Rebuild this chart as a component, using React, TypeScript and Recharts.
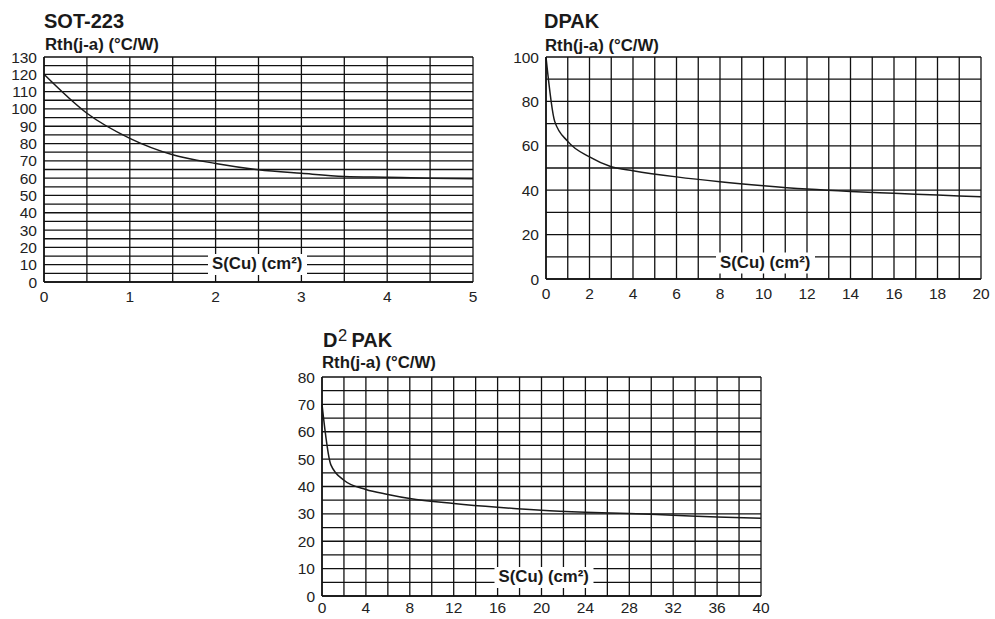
import React from 'react';
import { LineChart, Line, XAxis, YAxis, CartesianGrid } from 'recharts';

// ---- SOT-223 ----
const sot223X = [0, 0.5, 1, 1.5, 2, 2.5, 3, 3.5, 4, 4.5, 5];
const sot223Y = [120, 97.5, 83, 73.5, 68.5, 64.9, 62.8, 61, 60.5, 60, 59.6];
const sot223XTicks = [0, 0.5, 1, 1.5, 2, 2.5, 3, 3.5, 4, 4.5, 5];
const sot223YTicks = [0, 5, 10, 15, 20, 25, 30, 35, 40, 45, 50, 55, 60, 65, 70, 75, 80, 85, 90, 95, 100, 105, 110, 115, 120, 125, 130];

// ---- DPAK ----
const dpakX = [0, 0.4, 1, 2, 3, 4, 6, 8, 10, 12, 14, 16, 18, 20];
const dpakY = [100, 71, 62, 55, 50.6, 48.8, 46, 43.8, 42, 40.5, 39.4, 38.6, 37.8, 37];
const dpakXTicks = [0, 1, 2, 3, 4, 5, 6, 7, 8, 9, 10, 11, 12, 13, 14, 15, 16, 17, 18, 19, 20];
const dpakYTicks = [0, 10, 20, 30, 40, 50, 60, 70, 80, 90, 100];

// ---- D2PAK ----
const d2pakX = [0, 0.8, 2, 4, 6, 8, 12, 16, 20, 24, 28, 32, 36, 40];
const d2pakY = [70, 48, 42.3, 38.9, 37.1, 35.6, 33.8, 32.4, 31.3, 30.6, 30.1, 29.5, 28.9, 28.4];
const d2pakXTicks = [0, 2, 4, 6, 8, 10, 12, 14, 16, 18, 20, 22, 24, 26, 28, 30, 32, 34, 36, 38, 40];
const d2pakYTicks = [0, 5, 10, 15, 20, 25, 30, 35, 40, 45, 50, 55, 60, 65, 70, 75, 80];

const FONT = '"Liberation Sans", Arial, Helvetica, sans-serif';
const INK = '#1a1a1a';

type PanelProps = {
  xs: number[];
  ys: number[];
  xTicks: number[];
  yTicks: number[];
  xLabelEvery: number;
  yLabelEvery: number;
  plotLeft: number;
  plotTop: number;
  plotW: number;
  plotH: number;
  xTickSize: number;
};

const Panel = (p: PanelProps) => {
  const data = p.xs.map((x, i) => ({ x, y: p.ys[i] }));
  const yW = 50;
  const xH = 30;
  const mTop = 10;
  const mRight = 12;
  const width = yW + p.plotW + mRight;
  const height = mTop + p.plotH + xH;
  const xMax = p.xTicks[p.xTicks.length - 1];
  const yMax = p.yTicks[p.yTicks.length - 1];
  const fmt = (every: number) => (v: number) =>
    Math.abs(v / every - Math.round(v / every)) < 1e-6 ? String(v) : '';
  return (
    <div style={{ position: 'absolute', left: p.plotLeft - yW, top: p.plotTop - mTop, width, height }}>
      <LineChart width={width} height={height} data={data} margin={{ top: mTop, right: mRight, bottom: 0, left: 0 }}>
        <CartesianGrid stroke="#111" strokeWidth={1.3} />
        <XAxis
          dataKey="x"
          type="number"
          domain={[0, xMax]}
          ticks={p.xTicks}
          interval={0}
          height={xH}
          tickLine={false}
          tickSize={p.xTickSize}
          tickMargin={2}
          axisLine={{ stroke: '#111', strokeWidth: 1.5 }}
          tickFormatter={fmt(p.xLabelEvery)}
          tick={{ fill: '#222', fontSize: 15.5, fontFamily: FONT }}
        />
        <YAxis
          type="number"
          domain={[0, yMax]}
          ticks={p.yTicks}
          interval={0}
          width={yW}
          tickLine={false}
          tickSize={5}
          tickMargin={2}
          axisLine={{ stroke: '#111', strokeWidth: 1.5 }}
          tickFormatter={fmt(p.yLabelEvery)}
          tick={{ fill: '#222', fontSize: 15.5, fontFamily: FONT }}
        />
        <Line
          dataKey="y"
          type="monotone"
          stroke={INK}
          strokeWidth={1.5}
          dot={false}
          isAnimationActive={false}
        />
      </LineChart>
    </div>
  );
};

const labelStyle = { fontFamily: FONT, fontWeight: 700, fontSize: 16.8, fill: INK };
const titleStyle = { fontFamily: FONT, fontWeight: 700, fontSize: 20, fill: INK };
const unitStyle = { fontFamily: FONT, fontWeight: 700, fontSize: 16.8, fill: INK };

const AxisName = ({ x, y }: { x: number; y: number }) => (
  <g>
    <rect x={x - 4} y={y - 15} width={99} height={21} fill="#fff" />
    <text x={x} y={y} style={labelStyle}>S(Cu) (cm²)</text>
  </g>
);

export default function App() {
  return (
    <div style={{ position: 'absolute', left: 0, top: 0, width: 995, height: 619, background: '#fff', overflow: 'hidden' }}>
      <Panel
        xs={sot223X}
        ys={sot223Y}
        xTicks={sot223XTicks}
        yTicks={sot223YTicks}
        xLabelEvery={1}
        yLabelEvery={10}
        plotLeft={44}
        plotTop={57}
        plotW={429}
        plotH={225}
        xTickSize={7}
      />
      <Panel
        xs={dpakX}
        ys={dpakY}
        xTicks={dpakXTicks}
        yTicks={dpakYTicks}
        xLabelEvery={2}
        yLabelEvery={20}
        plotLeft={546}
        plotTop={57}
        plotW={435}
        plotH={222}
        xTickSize={7}
      />
      <Panel
        xs={d2pakX}
        ys={d2pakY}
        xTicks={d2pakXTicks}
        yTicks={d2pakYTicks}
        xLabelEvery={4}
        yLabelEvery={10}
        plotLeft={322}
        plotTop={377}
        plotW={439}
        plotH={219}
        xTickSize={4}
      />
      <svg width={995} height={619} style={{ position: 'absolute', left: 0, top: 0, pointerEvents: 'none' }}>
        {/* SOT-223 */}
        <text x={44} y={27.5} style={titleStyle}>SOT-223</text>
        <text x={45} y={50} style={unitStyle}>Rth(j-a) (°C/W)</text>
        <AxisName x={212} y={269} />
        {/* DPAK */}
        <text x={544} y={27.5} style={titleStyle}>DPAK</text>
        <text x={545} y={51} style={unitStyle}>Rth(j-a) (°C/W)</text>
        <AxisName x={720} y={267.5} />
        {/* D2PAK */}
        <text x={323} y={346.5} style={titleStyle}>D</text>
        <text x={338} y={341} style={{ fontFamily: FONT, fontSize: 16.5, fill: INK }}>2</text>
        <text x={351.5} y={346.5} style={titleStyle}>PAK</text>
        <text x={322} y={368} style={unitStyle}>Rth(j-a) (°C/W)</text>
        <AxisName x={498.5} y={582} />
      </svg>
    </div>
  );
}
